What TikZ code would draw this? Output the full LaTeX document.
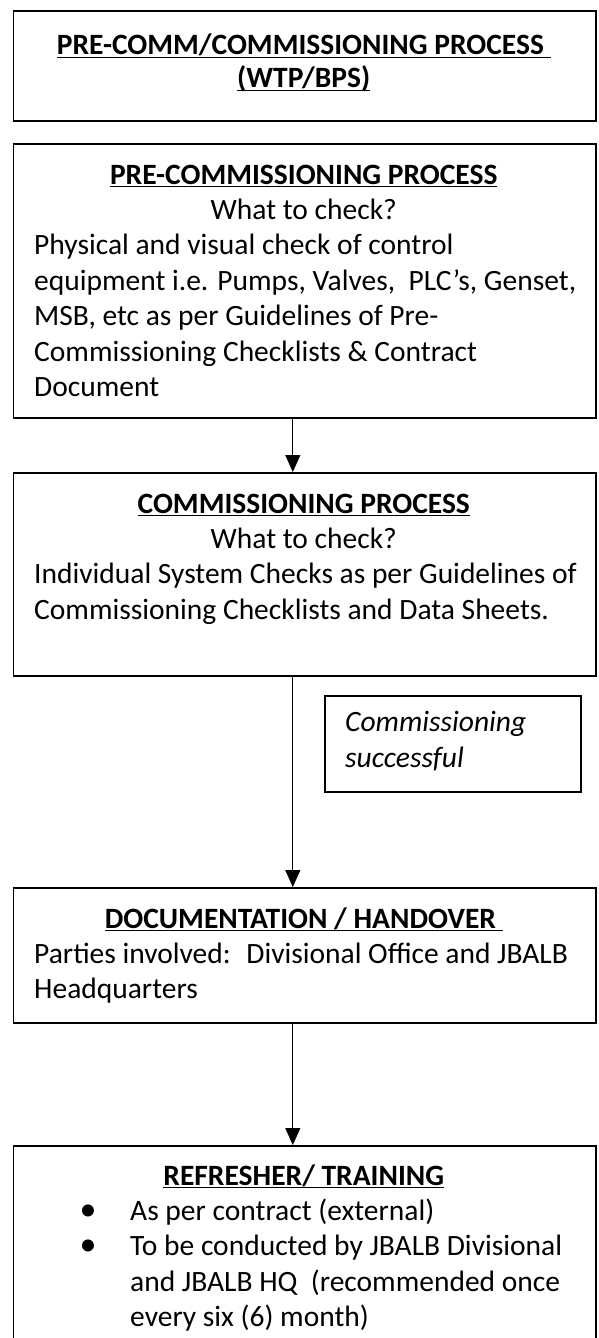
\documentclass[tikz,border=0pt]{standalone}
\usepackage{fontspec}
\setmainfont{Carlito}
\usetikzlibrary{arrows.meta}
\newcommand{\ulin}[1]{\setbox0\hbox{#1}\rlap{\rule[-3.4pt]{\wd0}{1.7pt}}\box0}
\begin{document}
\begin{tikzpicture}[x=1pt,y=-1pt,
  box/.style={draw, line width=1.6pt, inner sep=0pt, anchor=north west},
  txt/.style={inner sep=0pt, font=\fontsize{29.5}{35.4}\selectfont},
  lft/.style={txt, anchor=base west},
  ctr/.style={txt, anchor=base},
  hd/.style={inner sep=0pt, anchor=base, font=\fontsize{29.5}{35.4}\selectfont\bfseries},
  bul/.style={inner sep=0pt, anchor=base, font=\fontsize{34}{35.4}\selectfont},
  conn/.style={line width=1pt, -{Triangle[width=15pt,length=17pt]}}]
\clip (0,0) rectangle (598,1338);
\fill[white] (0,0) rectangle (598,1338);
% boxes
\node[box, minimum width=582.5pt, minimum height=110pt] (b1) at (12.5,10) {};
\node[box, minimum width=582.5pt, minimum height=274pt] (b2) at (12.5,143) {};
\node[box, minimum width=582.5pt, minimum height=203pt] (b3) at (12.5,472) {};
\node[box, minimum width=256pt, minimum height=96pt] (cs) at (324,695) {};
\node[box, minimum width=582.5pt, minimum height=135pt] (b4) at (12.5,887) {};
\node[box, minimum width=582.5pt, minimum height=300pt] (b5) at (12.5,1145) {};
% box 1
\node[hd] (h1a) at (303.75,55) {\ulin{PRE-COMM/COMMISSIONING PROCESS\ }};
\node[hd] (h1b) at (303.75,88) {\ulin{(WTP/BPS)}};
% box 2
\node[hd] (h2) at (303.75,184) {\ulin{PRE-COMMISSIONING PROCESS}};
\node[ctr] (w2) at (303.75,219.4) {What to check?};
\node[lft] (l2a) at (34,254.8) {Physical and visual check of control};
\node[lft] (l2b) at (34,290.2) {equipment i.e. Pumps, Valves, \ PLC’s, Genset,};
\node[lft] (l2c) at (34,325.6) {MSB, etc as per Guidelines of Pre-};
\node[lft] (l2d) at (34,361) {Commissioning Checklists \& Contract};
\node[lft] (l2e) at (34,396.4) {Document};
% box 3
\node[hd] (h3) at (303.75,513) {\ulin{COMMISSIONING PROCESS}};
\node[ctr] (w3) at (303.75,548.4) {What to check?};
\node[lft] (l3a) at (34,583.8) {Individual System Checks as per Guidelines of};
\node[lft] (l3b) at (34,619.2) {Commissioning Checklists and Data Sheets.};
% commissioning successful
\node[lft, font=\fontsize{29.5}{35.4}\selectfont\itshape] (csa) at (345,731) {Commissioning};
\node[lft, font=\fontsize{29.5}{35.4}\selectfont\itshape] (csb) at (345,767) {successful};
% box 4
\node[hd] (h4) at (303.75,928) {\ulin{DOCUMENTATION / HANDOVER\ }};
\node[lft] (l4a) at (34,963.4) {Parties involved: \ Divisional Office and JBALB};
\node[lft] (l4b) at (34,998.8) {Headquarters};
% box 5
\node[hd] (h5) at (303.75,1185) {\ulin{REFRESHER/ TRAINING}};
\node[bul] (p1) at (88,1220.4) {•};
\node[lft] (l5a) at (130,1220.4) {As per contract (external)};
\node[bul] (p2) at (88,1255.8) {•};
\node[lft] (l5b) at (130,1255.8) {To be conducted by JBALB Divisional};
\node[lft] (l5c) at (130,1291.2) {and JBALB HQ \ (recommended once};
\node[lft] (l5d) at (130,1326.6) {every six (6) month)};
% connectors
\draw[conn] ([xshift=-11.75pt]b2.south) -- ([xshift=-11.75pt]b3.north);
\draw[conn] ([xshift=-11.75pt]b3.south) -- ([xshift=-11.75pt]b4.north);
\draw[conn] ([xshift=-11.75pt]b4.south) -- ([xshift=-11.75pt]b5.north);
\end{tikzpicture}
\end{document}
